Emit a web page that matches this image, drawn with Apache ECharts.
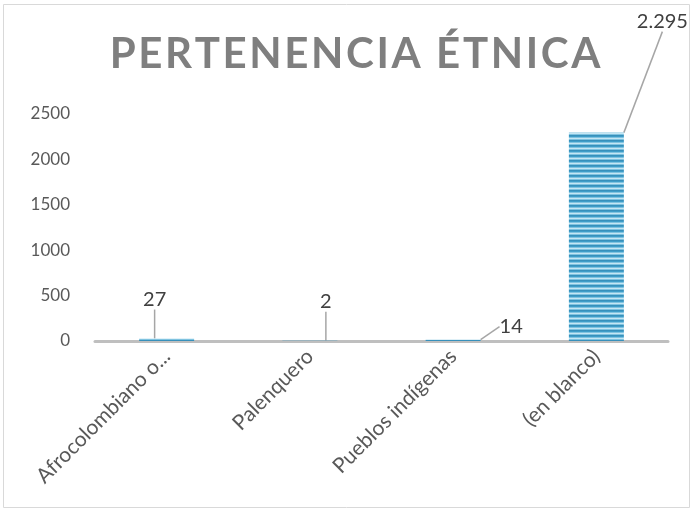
<!DOCTYPE html>
<html><head><meta charset="utf-8">
<script src="https://cdn.jsdelivr.net/npm/echarts@6/dist/echarts.min.js"></script>
<style>html,body{margin:0;padding:0;background:#fff}#c{width:693px;height:512px}</style>
</head><body><div id="c"></div>
<script>
var categories = ['Afrocolombiano o...', 'Palenquero', 'Pueblos indígenas', '(en blanco)'];
var values = [27, 2, 14, 2295];
var yTicks = [0, 500, 1000, 1500, 2000, 2500];
var titleText = 'PERTENENCIA ÉTNICA';

var labelShift = [[-12, -24], [16, -24], [58, 2], [66, -96]];

function stripes() {
  var c = document.createElement('canvas');
  c.width = 4; c.height = 5;
  var g = c.getContext('2d');
  var cols = ['#3790bb', '#3e9dc8', '#7fc3e0', '#c4e6f4', '#7fc3e0'];
  for (var i = 0; i < 5; i++) { g.fillStyle = cols[i]; g.fillRect(0, i, 4, 1); }
  return c;
}
var spaced = titleText.split('').join('\u200A');

var chart = echarts.init(document.getElementById('c'));
chart.setOption({
  animation: false,
  title: {
    text: spaced, left: 350, textAlign: 'center', top: 28,
    textStyle: { fontFamily: 'Lato', fontWeight: 'bold', fontSize: 42, color: '#7f7f7f' }
  },
  graphic: [{ type: 'rect', shape: { x: 3.5, y: 4.5, width: 686, height: 503 }, style: { fill: 'none', stroke: '#d9d9d9', lineWidth: 1 }, silent: true }],
  grid: { left: 95, right: 25, top: 114, bottom: 171 },
  xAxis: {
    type: 'category', data: categories,
    axisLine: { lineStyle: { color: '#bfbfbf', width: 3 } },
    axisTick: { show: false },
    axisLabel: { rotate: 45, margin: 12, fontFamily: 'Lato', fontSize: 21, color: '#595959', interval: 0 }
  },
  yAxis: {
    type: 'value', min: 0, max: 2500, interval: 500,
    axisLine: { show: false }, axisTick: { show: false }, splitLine: { show: false },
    axisLabel: { margin: 25, fontFamily: 'Lato', fontSize: 17, color: '#595959',
      formatter: function (v) { return yTicks.indexOf(v) >= 0 ? String(v) : ''; } }
  },
  series: [{
    type: 'bar', data: values, barWidth: 55,
    itemStyle: { color: { image: stripes(), repeat: 'repeat' } },
    label: {
      show: true, position: 'top', fontFamily: 'Lato', fontSize: 20, color: '#404040',
      formatter: function (p) { return p.value.toLocaleString('es-CO').replace(/,/g, '.'); }
    },
    labelLine: { show: true, lineStyle: { color: '#a6a6a6', width: 1.5 } },
    labelLayout: function (p) { var s = labelShift[p.dataIndex]; return { dx: s[0], dy: s[1] }; }
  }]
});
</script></body></html>
